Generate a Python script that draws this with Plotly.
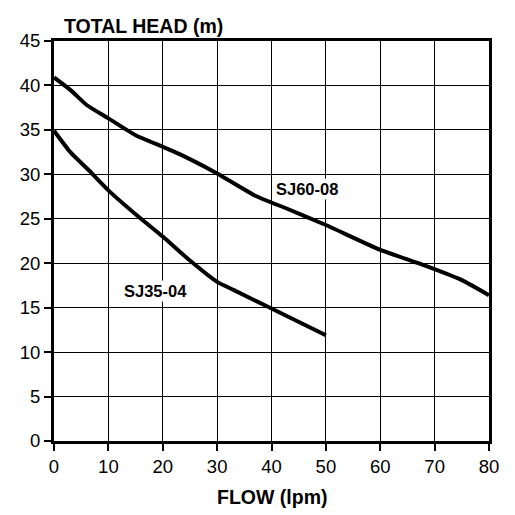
import plotly.graph_objects as go

# pump curves
sj60_flow = [0, 3, 6, 10, 15, 20, 23, 30, 37, 43, 50, 60, 67, 75, 80]
sj60_head = [40.9, 39.5, 37.8, 36.3, 34.4, 33.1, 32.3, 30.1, 27.6, 26.1, 24.3, 21.5, 20.0, 18.1, 16.4]

sj35_flow = [0, 3, 6.5, 10, 16, 20, 25, 30, 33, 40, 50]
sj35_head = [34.9, 32.5, 30.4, 28.2, 25.0, 23.0, 20.3, 17.9, 17.0, 14.9, 11.9]

x_ticks = [0, 10, 20, 30, 40, 50, 60, 70, 80]
y_ticks = [0, 5, 10, 15, 20, 25, 30, 35, 40, 45]

fig = go.Figure()
fig.add_trace(go.Scatter(x=sj60_flow, y=sj60_head, mode="lines", name="SJ60-08",
                         line=dict(color="black", width=4, shape="spline", smoothing=0.5)))
fig.add_trace(go.Scatter(x=sj35_flow, y=sj35_head, mode="lines", name="SJ35-04",
                         line=dict(color="black", width=4, shape="spline", smoothing=0.5)))

# curve labels (white box hides the grid behind)
fig.add_annotation(x=46.5, y=28.3, text="<b>SJ60-08</b>", showarrow=False,
                   bgcolor="white", font=dict(size=16.5, color="black"))
fig.add_annotation(x=18.6, y=16.9, text="<b>SJ35-04</b>", showarrow=False,
                   bgcolor="white", font=dict(size=16.5, color="black"))

# axis titles
fig.add_annotation(x=0.018, y=1.0375, xref="paper", yref="paper", xanchor="left", yanchor="middle",
                   text="<b>TOTAL HEAD (m)</b>", showarrow=False, font=dict(size=19.5, color="black"))
fig.add_annotation(x=0.501, y=-0.139, xref="paper", yref="paper", xanchor="center", yanchor="middle",
                   text="<b>FLOW (lpm)</b>", showarrow=False, font=dict(size=19.5, color="black"))

axis_style = dict(showgrid=True, gridcolor="black", gridwidth=1,
                  showline=True, linecolor="black", linewidth=3, mirror=True,
                  ticks="outside", ticklen=7, tickwidth=2, tickcolor="black",
                  zeroline=False, tickfont=dict(size=18.5, color="black"))

fig.update_xaxes(range=[0, 80], tickvals=x_ticks, **axis_style)
fig.update_yaxes(range=[0, 45], tickvals=y_ticks, **axis_style)

fig.update_layout(width=515, height=515, showlegend=False,
                  plot_bgcolor="white", paper_bgcolor="white",
                  font=dict(family="Liberation Sans, Arial, sans-serif", color="black"),
                  margin=dict(l=54, r=26, t=41, b=74))

# drop the default 8px page margin so the figure sits at the window corner
fig.write_html("out.html", config={"displayModeBar": False},
               post_script="document.body.style.margin='0';")
